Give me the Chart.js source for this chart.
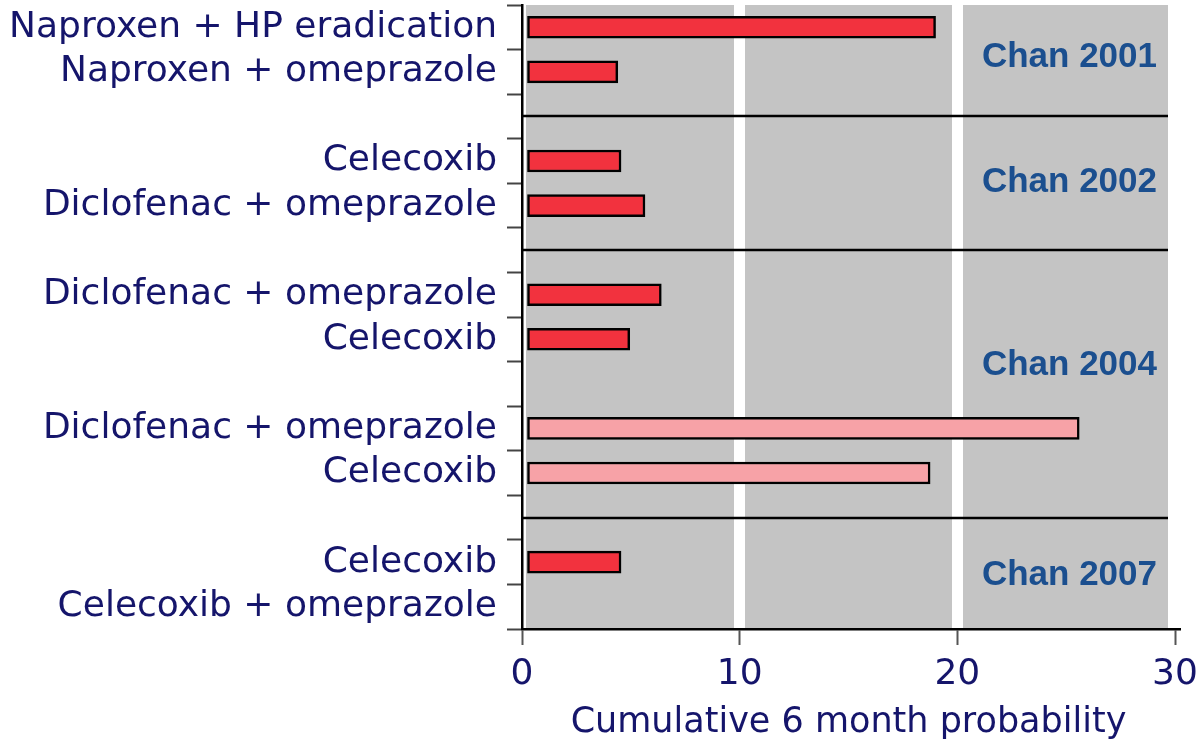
<!DOCTYPE html>
<html>
<head>
<meta charset="utf-8">
<script src="https://cdn.jsdelivr.net/npm/chart.js@4/dist/chart.umd.min.js"></script>
<style>
  html, body { margin: 0; padding: 0; background: #ffffff; }
  #wrap { width: 1200px; height: 748px; position: relative; }
</style>
</head>
<body>
<div id="wrap"><canvas id="c"></canvas></div>
<script>
// ---- data ----
const categories = [
  'Naproxen + HP eradication', 'Naproxen + omeprazole', '',
  'Celecoxib', 'Diclofenac + omeprazole', '',
  'Diclofenac + omeprazole', 'Celecoxib', '',
  'Diclofenac + omeprazole', 'Celecoxib', '',
  'Celecoxib', 'Celecoxib + omeprazole'
];
const probabilities = [19.0, 4.4, null, 4.55, 5.65, null, 6.4, 4.95, null, 25.6, 18.75, null, 4.55, 0];
const barTone = ['dark', 'dark', null, 'dark', 'dark', null, 'dark', 'dark', null, 'light', 'light', null, 'dark', 'dark'];
const groupNames = ['Chan 2001', 'Chan 2002', 'Chan 2004', 'Chan 2007'];
const groupLabelAt = [0.67, 3.49, 7.58, 12.29];
const groupSeparatorsAt = [2, 5, 11];
const xTicks = [0, 10, 20, 30];
const xTitle = 'Cumulative 6 month probability';

// ---- styles ----
const NAVY = '#15156b';
const CHAN = '#1b4f8f';
const toneColor = { dark: '#f2323e', light: '#f7a2a7' };

const decor = {
  id: 'decor',
  beforeDraw(chart) {
    const { ctx, chartArea: a } = chart;
    ctx.save();
    ctx.fillStyle = '#c4c4c4';
    ctx.fillRect(a.left + 4, a.top, (a.right - 7) - (a.left + 4), a.bottom - a.top);
    ctx.restore();
  },
  afterDatasetsDraw(chart) {
    const { ctx, chartArea: a, scales } = chart;
    const y = scales.y;
    ctx.save();
    ctx.strokeStyle = '#000';
    ctx.lineWidth = 2.5;
    groupSeparatorsAt.forEach(i => {
      const py = Math.round(y.getPixelForValue(i));
      ctx.beginPath();
      ctx.moveTo(a.left, py);
      ctx.lineTo(a.right - 7, py);
      ctx.stroke();
    });
    ctx.fillStyle = CHAN;
    ctx.font = 'bold 35px "Liberation Sans", Arial, sans-serif';
    ctx.textAlign = 'right';
    ctx.textBaseline = 'middle';
    groupNames.forEach((n, k) => {
      ctx.fillText(n, a.right - 18, y.getPixelForValue(groupLabelAt[k]));
    });
    ctx.restore();
  }
};

new Chart(document.getElementById('c'), {
  type: 'bar',
  data: {
    labels: categories,
    datasets: [{
      data: probabilities,
      backgroundColor: barTone.map(t => t ? toneColor[t] : 'rgba(0,0,0,0)'),
      borderColor: '#000',
      borderWidth: 2.5,
      borderSkipped: false,
      barThickness: 22
    }]
  },
  options: {
    indexAxis: 'y',
    responsive: true,
    maintainAspectRatio: false,
    animation: false,
    layout: { padding: { top: 5, right: 25, bottom: 0, left: 0 } },
    plugins: { legend: { display: false }, tooltip: { enabled: false } },
    scales: {
      x: {
        type: 'linear',
        min: 0, max: 30,
        afterBuildTicks(s) { s.ticks = xTicks.map(v => ({ value: v })); },
        afterFit(s) { s.height = 119; s.paddingLeft = 0; s.paddingRight = 0; },
        border: { display: true, color: '#000', width: 2.5 },
        grid: {
          drawOnChartArea: true,
          color: c => (c.tick && (c.tick.value === 10 || c.tick.value === 20)) ? '#ffffff' : 'rgba(0,0,0,0)',
          lineWidth: 11,
          tickColor: '#555',
          tickWidth: 2,
          tickLength: 16
        },
        ticks: {
          color: NAVY,
          font: { family: '"DejaVu Sans", sans-serif', size: 36 },
          padding: 8,
          maxRotation: 0
        },
        title: {
          display: true,
          text: xTitle,
          color: NAVY,
          font: { family: '"DejaVu Sans", sans-serif', size: 35 },
          padding: { top: 0, bottom: 4 }
        }
      },
      y: {
        afterFit(s) { s.width = 522; s.paddingTop = 0; s.paddingBottom = 0; },
        border: { display: true, color: '#000', width: 2.5 },
        grid: {
          offset: true,
          drawOnChartArea: false,
          tickColor: '#444',
          tickWidth: 2,
          tickLength: 15
        },
        ticks: {
          color: NAVY,
          font: { family: '"DejaVu Sans", sans-serif', size: 36 },
          padding: 10,
          autoSkip: false
        }
      }
    }
  },
  plugins: [decor]
});
</script>
</body>
</html>
